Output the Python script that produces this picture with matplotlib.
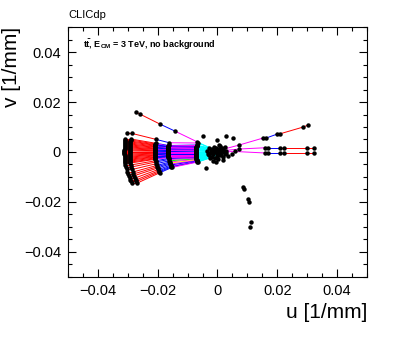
import matplotlib
matplotlib.use("Agg")
import matplotlib.pyplot as plt
from matplotlib.ticker import MultipleLocator

plt.rcParams["font.family"] = ["Liberation Sans", "DejaVu Sans"]
plt.rcParams["mathtext.fontset"] = "custom"
plt.rcParams["mathtext.rm"] = "Liberation Sans"
plt.rcParams["mathtext.bf"] = "Liberation Sans:bold"

# --- Bundle of tracks going left (hits per layer, outermost first) ---
bundle_v1 = [0.0074, 0.0052, 0.0048, 0.0044, 0.0040, 0.0036, 0.0032, 0.0028, 0.0024, 0.0020,
             0.0016, 0.0012, 0.0008, 0.0004, 0.0000, -0.0004, -0.0008, -0.0012, -0.0016, -0.0020,
             -0.0024, -0.0028, -0.0032, -0.0036, -0.0040, -0.0044, -0.0052, -0.0060, -0.0070, -0.0080,
             -0.0088, -0.0095, -0.0104, -0.0112, -0.0118, -0.0124]
bundle_u1a = [-0.0303, -0.0308, -0.0308, -0.0309, -0.0309, -0.0310, -0.0310, -0.0310, -0.0311, -0.0311,
              -0.0311, -0.0311, -0.0312, -0.0312, -0.0312, -0.0312, -0.0312, -0.0311, -0.0311, -0.0311,
              -0.0311, -0.0310, -0.0310, -0.0310, -0.0309, -0.0309, -0.0308, -0.0306, -0.0304, -0.0301,
              -0.0299, -0.0297, -0.0294, -0.0291, -0.0289, -0.0286]
bundle_u1b = [-0.0285, -0.0290, -0.0290, -0.0291, -0.0291, -0.0292, -0.0292, -0.0292, -0.0293, -0.0293,
              -0.0293, -0.0293, -0.0294, -0.0294, -0.0294, -0.0294, -0.0294, -0.0293, -0.0293, -0.0293,
              -0.0293, -0.0292, -0.0292, -0.0292, -0.0291, -0.0291, -0.0290, -0.0288, -0.0286, -0.0283,
              -0.0281, -0.0279, -0.0276, -0.0273, -0.0271, -0.0268]
bundle_v2 = [0.0050, 0.0035, 0.0032, 0.0029, 0.0027, 0.0024, 0.0021, 0.0019, 0.0016, 0.0013,
             0.0011, 0.0008, 0.0005, 0.0003, 0.0000, -0.0003, -0.0005, -0.0008, -0.0011, -0.0013,
             -0.0016, -0.0019, -0.0021, -0.0024, -0.0027, -0.0029, -0.0035, -0.0040, -0.0047, -0.0054,
             -0.0059, -0.0064, -0.0070, -0.0075, -0.0079, -0.0083]
bundle_u2 = [-0.0204, -0.0207, -0.0208, -0.0208, -0.0208, -0.0209, -0.0209, -0.0209, -0.0209, -0.0210,
             -0.0210, -0.0210, -0.0210, -0.0210, -0.0210, -0.0210, -0.0210, -0.0210, -0.0210, -0.0210,
             -0.0209, -0.0209, -0.0209, -0.0209, -0.0208, -0.0208, -0.0207, -0.0206, -0.0205, -0.0203,
             -0.0201, -0.0200, -0.0198, -0.0196, -0.0194, -0.0193]
bundle_v3 = [0.0037, 0.0026, 0.0024, 0.0022, 0.0020, 0.0018, 0.0016, 0.0014, 0.0012, 0.0010,
             0.0008, 0.0006, 0.0004, 0.0002, 0.0000, -0.0002, -0.0004, -0.0006, -0.0008, -0.0010,
             -0.0012, -0.0014, -0.0016, -0.0018, -0.0020, -0.0022, -0.0026, -0.0030, -0.0035, -0.0040,
             -0.0044, -0.0048, -0.0052, -0.0056, -0.0059, -0.0062]
bundle_u3 = [-0.0161, -0.0163, -0.0164, -0.0164, -0.0164, -0.0164, -0.0165, -0.0165, -0.0165, -0.0165,
             -0.0165, -0.0165, -0.0165, -0.0165, -0.0165, -0.0165, -0.0165, -0.0165, -0.0165, -0.0165,
             -0.0165, -0.0165, -0.0165, -0.0164, -0.0164, -0.0164, -0.0163, -0.0162, -0.0161, -0.0160,
             -0.0159, -0.0158, -0.0156, -0.0155, -0.0154, -0.0153]
bundle_v4 = [0.0036, 0.0028, 0.0026, 0.0024, 0.0022, 0.0020, 0.0018, 0.0016, 0.0014, 0.0012,
             0.0010, 0.0008, 0.0006, 0.0003, 0.0000, -0.0002, -0.0004, -0.0006, -0.0008, -0.0010,
             -0.0012, -0.0014, -0.0016, -0.0018, -0.0020, -0.0022, -0.0024, -0.0026, -0.0028, -0.0030,
             -0.0032, -0.0034, -0.0036, -0.0038, -0.0039, -0.0040]
bundle_u4 = [-0.0066, -0.0069, -0.0069, -0.0070, -0.0070, -0.0071, -0.0071, -0.0072, -0.0072, -0.0072,
             -0.0073, -0.0073, -0.0073, -0.0073, -0.0073, -0.0073, -0.0073, -0.0073, -0.0073, -0.0073,
             -0.0073, -0.0073, -0.0073, -0.0073, -0.0073, -0.0073, -0.0072, -0.0072, -0.0071, -0.0071,
             -0.0070, -0.0069, -0.0068, -0.0067, -0.0067, -0.0066]
bundle_v5 = [0.0010, 0.0008, 0.0008, 0.0007, 0.0006, 0.0005, 0.0005, 0.0004, 0.0003, 0.0003,
             0.0002, 0.0002, 0.0001, 0.0001, 0.0000, -0.0001, -0.0001, -0.0002, -0.0002, -0.0003,
             -0.0003, -0.0004, -0.0005, -0.0005, -0.0006, -0.0007, -0.0008, -0.0009, -0.0010, -0.0012,
             -0.0013, -0.0014, -0.0015, -0.0017, -0.0018, -0.0019]
bundle_u5 = [-0.0010, -0.0005, 0.0005, 0.0000, 0.0010, 0.0005, 0.0015, 0.0010, 0.0018, 0.0012,
             0.0020, 0.0015, 0.0018, 0.0010, 0.0020, 0.0015, 0.0018, 0.0012, 0.0020, 0.0010,
             0.0015, 0.0012, 0.0010, 0.0005, 0.0008, 0.0000, 0.0005, 0.0000, -0.0005, -0.0005,
             -0.0008, -0.0008, -0.0010, -0.0010, -0.0012, -0.0012]
bundle_l2_col = ["blue", "blue", "magenta", "blue", "blue", "blue", "magenta", "blue", "blue", "blue",
                 "magenta", "blue", "blue", "blue", "blue", "magenta", "blue", "blue", "blue", "blue",
                 "magenta", "blue", "blue", "blue", "blue", "magenta", "blue", "blue", "blue", "blue",
                 "blue", "blue", "blue", "blue", "blue", "blue"]
bundle_l3_col = ["magenta", "blue", "magenta", "magenta", "blue", "magenta", "magenta", "blue", "magenta", "magenta",
                 "blue", "magenta", "magenta", "blue", "magenta", "magenta", "blue", "magenta", "magenta", "blue",
                 "magenta", "magenta", "blue", "magenta", "yellow", "magenta", "blue", "magenta", "lime", "magenta",
                 "yellow", "magenta", "blue", "magenta", "blue", "magenta"]

# --- Individual tracks (u, v, segment colours, outermost first) ---
track_ul_u = [-0.0273, -0.0260, -0.0193, -0.0143, -0.0067, -0.0010]
track_ul_v = [0.0160, 0.0152, 0.0112, 0.0084, 0.0040, 0.0008]
track_ul_c = ["red", "red", "blue", "magenta", "cyan"]

track_ur_u = [0.0303, 0.0287, 0.0210, 0.0198, 0.0163, 0.0153, 0.0073, 0.0010]
track_ur_v = [0.0108, 0.0100, 0.0073, 0.0071, 0.0056, 0.0056, 0.0028, 0.0008]
track_ur_c = ["red", "red", "red", "blue", "blue", "magenta", "magenta"]

track_r1_u = [0.0322, 0.0300, 0.0223, 0.0210, 0.0168, 0.0160, 0.0073, 0.0010]
track_r1_v = [0.0017, 0.0017, 0.0017, 0.0017, 0.0017, 0.0017, 0.0012, 0.0004]
track_r1_c = ["red", "red", "red", "blue", "blue", "magenta", "magenta"]

track_r2_u = [0.0322, 0.0300, 0.0223, 0.0210, 0.0168, 0.0160, 0.0060, 0.0010]
track_r2_v = [-0.0004, -0.0004, -0.0004, -0.0004, -0.0004, -0.0004, 0.0002, 0.0000]
track_r2_c = ["red", "red", "red", "blue", "blue", "magenta", "magenta"]

# --- Hits without a track ---
blob_u = [-0.0035, -0.0030, -0.0028, -0.0025, -0.0022, -0.0020, -0.0018, -0.0015, -0.0012, -0.0010,
          -0.0008, -0.0005, -0.0003, 0.0000, 0.0002, 0.0005, 0.0008, 0.0010, 0.0012, 0.0015,
          0.0018, 0.0020, 0.0025, 0.0030, 0.0035, -0.0015, -0.0005, 0.0005, 0.0015, 0.0025,
          -0.0025, 0.0000, 0.0010, 0.0020, -0.0010, -0.0032, 0.0028, -0.0018, 0.0004, 0.0022]
blob_v = [0.0004, -0.0012, 0.0016, -0.0004, 0.0008, -0.0020, 0.0012, -0.0008, 0.0020, 0.0000,
          -0.0024, 0.0014, -0.0016, 0.0006, -0.0028, 0.0010, -0.0006, 0.0022, -0.0014, 0.0002,
          -0.0032, 0.0012, -0.0010, 0.0004, -0.0018, -0.0036, -0.0040, 0.0026, 0.0016, 0.0018,
          -0.0026, -0.0006, 0.0000, -0.0022, 0.0006, -0.0008, -0.0004, 0.0004, -0.0012, -0.0002]
iso_u = [-0.0050, 0.0027, 0.0053, 0.0000, -0.0040, 0.0047,
         0.0086, 0.0090, 0.0102, 0.0107, 0.0112, 0.0110]
iso_v = [0.0064, 0.0064, 0.0056, 0.0048, -0.0064, -0.0008,
         -0.0141, -0.0149, -0.0189, -0.0199, -0.0279, -0.0299]

fig = plt.figure(figsize=(3.99, 3.38), dpi=100)
ax = fig.add_axes([0.1704, 0.1805, 0.7494, 0.7396])

lw = 0.7
ms = 3.2


def draw_track(us, vs, cols):
    for i, c in enumerate(cols):
        ax.plot(us[i:i + 2], vs[i:i + 2], color=c, lw=lw, zorder=2)


n = len(bundle_v1)
assert all(len(a) == n for a in [bundle_u1a, bundle_u1b, bundle_v2, bundle_u2, bundle_v3, bundle_u3,
                                 bundle_v4, bundle_u4, bundle_v5, bundle_u5, bundle_l2_col, bundle_l3_col])
for i in range(n):
    us = [bundle_u1a[i], bundle_u1b[i], bundle_u2[i], bundle_u3[i], bundle_u4[i], bundle_u5[i]]
    vs = [bundle_v1[i], bundle_v1[i], bundle_v2[i], bundle_v3[i], bundle_v4[i], bundle_v5[i]]
    draw_track(us, vs, ["red", "red", bundle_l2_col[i], bundle_l3_col[i], "cyan"])
    ax.plot(us[:-1], vs[:-1], "o", color="black", ms=ms, mew=0, zorder=3)

for us, vs, cs in [(track_ul_u, track_ul_v, track_ul_c), (track_ur_u, track_ur_v, track_ur_c),
                   (track_r1_u, track_r1_v, track_r1_c), (track_r2_u, track_r2_v, track_r2_c)]:
    draw_track(us, vs, cs)
    ax.plot(us[:-1], vs[:-1], "o", color="black", ms=ms, mew=0, zorder=3)

ax.plot(blob_u, blob_v, "o", color="black", ms=ms, mew=0, zorder=3)
ax.plot(iso_u, iso_v, "o", color="black", ms=ms, mew=0, zorder=3)

ax.set_xlim(-0.05, 0.05)
ax.set_ylim(-0.05, 0.05)
ax.xaxis.set_major_locator(MultipleLocator(0.02))
ax.yaxis.set_major_locator(MultipleLocator(0.02))
ax.xaxis.set_minor_locator(MultipleLocator(0.005))
ax.yaxis.set_minor_locator(MultipleLocator(0.005))
fmt = lambda x, p: "0" if abs(x) < 1e-9 else ("%.2f" % x).replace("-", "\u2212")
ax.xaxis.set_major_formatter(plt.FuncFormatter(fmt))
ax.yaxis.set_major_formatter(plt.FuncFormatter(fmt))
ax.tick_params(which="both", direction="in", top=True, right=True, labelsize=10.5, width=0.8)
ax.tick_params(which="major", length=6, pad=5)
ax.tick_params(which="minor", length=3)
for s in ax.spines.values():
    s.set_linewidth(0.8)

ax.set_xlabel("u [1/mm]", fontsize=15, loc="right", labelpad=4)
ax.set_ylabel("v [1/mm]", fontsize=15, loc="top", labelpad=2)

fig.text(0.1704, 0.955, "CLICdp", fontsize=8, va="center", ha="left")
ax.text(0.05, 0.93, r"$\mathbf{t\bar{t}}$, $\mathbf{E_{CM}}$ = 3 TeV, no background",
        transform=ax.transAxes, fontsize=6.5, fontweight="bold", va="center", ha="left")

fig.savefig("out.png", dpi=100)
